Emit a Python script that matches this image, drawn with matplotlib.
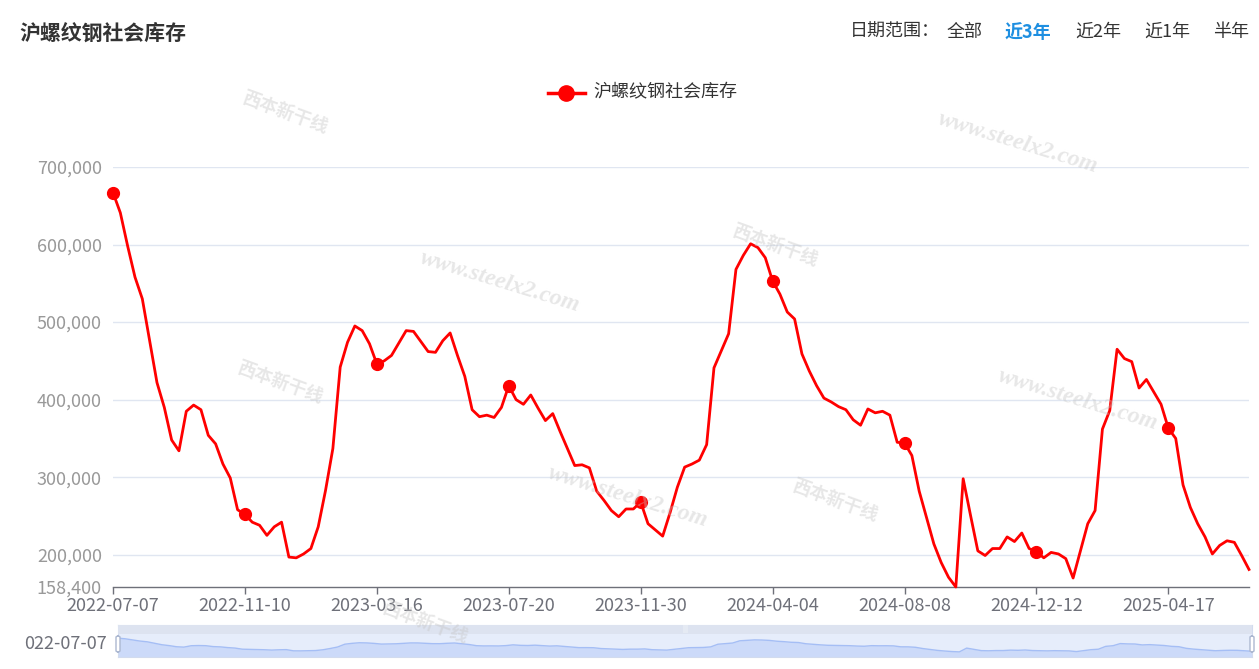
import matplotlib
matplotlib.use("Agg")
import matplotlib.pyplot as plt
from matplotlib.patches import Rectangle, FancyBboxPatch
from matplotlib.lines import Line2D
import numpy as np

plt.rcParams['font.family'] = ['Noto Sans CJK SC', 'DejaVu Sans']

title = "沪螺纹钢社会库存"
series_name = "沪螺纹钢社会库存"
tick_labels = ["2022-07-07", "2022-11-10", "2023-03-16", "2023-07-20", "2023-11-30",
               "2024-04-04", "2024-08-08", "2024-12-12", "2025-04-17"]
values = [
    667000, 641000, 598000, 558000, 530000, 476000, 422000, 390000, 348000, 334000,
    385000, 393000, 387000, 354000, 343000, 317000, 299000, 258000, 252000, 242000,
    238000, 225000, 236000, 242000, 197000, 196000, 201000, 208000, 236000, 283000,
    337000, 442000, 474000, 495000, 489000, 472000, 446000, 450000, 457000, 473000,
    489000, 488000, 475000, 462000, 461000, 476000, 486000, 457000, 430000, 387000,
    378000, 380000, 377000, 390000, 418000, 400000, 394000, 406000, 389000, 373000,
    382000, 359000, 337000, 315000, 316000, 312000, 282000, 270000, 257000, 249000,
    259000, 259000, 268000, 240000, 232000, 224000, 254000, 287000, 313000, 317000,
    322000, 342000, 441000, 463000, 485000, 568000, 586000, 601000, 596000, 583000,
    553000, 536000, 513000, 504000, 459000, 437000, 418000, 402000, 397000, 391000,
    387000, 374000, 367000, 388000, 383000, 385000, 380000, 345000, 344000, 328000,
    282000, 248000, 214000, 190000, 171000, 158400, 298000, 251000, 205000, 199000,
    208000, 208000, 223000, 217000, 228000, 208000, 204000, 196000, 203000, 201000,
    195000, 170000, 205000, 240000, 257000, 362000, 386000, 465000, 453000, 449000,
    415000, 426000, 410000, 394000, 363000, 350000, 290000, 261000, 240000, 223000,
    201000, 212000, 218000, 216000, 199000, 181000,
]
label_interval = 18
y_ticks = [200000, 300000, 400000, 500000, 600000, 700000]
y_min = 158400
range_options = ["全部", "近3年", "近2年", "近1年", "半年"]
active_range = "近3年"

W, H = 1259, 669
fig = plt.figure(figsize=(W / 100, H / 100), dpi=100)
fig.patch.set_facecolor("white")

def fx(px):
    return px / W

def fy(py):
    return 1 - py / H

# watermarks
wm_kw = dict(color="#c4c4c4", alpha=0.4, ha="center", va="center", zorder=0)
for (x, y) in [(1018, 143), (500, 282), (1078, 400), (628, 497)]:
    fig.text(fx(x), fy(y), "www.steelx2.com", rotation=-17, fontsize=17,
             family="Liberation Serif", style="italic", fontweight="bold", **wm_kw)
for (x, y) in [(285, 112), (775, 245), (280, 382), (835, 500), (425, 622)]:
    fig.text(fx(x), fy(y), "西本新干线", rotation=-20, fontsize=13,
             fontweight="bold", **wm_kw)

n = len(values)
x = np.arange(n)

ax = fig.add_axes([fx(113), fy(587), fx(1249) - fx(113), fy(167) - fy(587)])
ax.set_facecolor("none")
ax.plot(x, values, color="#ff0000", linewidth=2.0, marker="o", markersize=8.5,
        markevery=label_interval, zorder=3, clip_on=False)
ax.set_xlim(0, n - 1)
ax.set_ylim(y_min, 700000)

ax.set_yticks([y_min] + y_ticks)
ax.set_yticklabels([f"{v:,}" for v in [y_min] + y_ticks], color="#999999", fontsize=13)
ax.tick_params(axis="y", length=0, pad=8)
for v in y_ticks:
    ax.axhline(v, color="#E0E6F1", linewidth=1, zorder=1)

tick_pos = list(range(0, n, label_interval))[:len(tick_labels)]
ax.set_xticks(tick_pos)
ax.set_xticklabels(tick_labels, color="#6E7079", fontsize=13)
ax.tick_params(axis="x", length=5, width=1, color="#6E7079", pad=2)

for s in ["top", "right", "left"]:
    ax.spines[s].set_visible(False)
ax.spines["bottom"].set_color("#6E7079")
ax.spines["bottom"].set_linewidth(1)

# title
fig.text(fx(19), fy(33), title, fontsize=15, fontweight="bold", color="#333333",
         ha="left", va="center")

# date range options
fig.text(fx(850), fy(32), "日期范围：", fontsize=13, color="#333333", ha="left", va="center")
opt_x = [947, 1005, 1075, 1144, 1213]
for ox, opt in zip(opt_x, range_options):
    active = opt == active_range
    fig.text(fx(ox), fy(32), opt, fontsize=13,
             color="#1E8FE1" if active else "#333333",
             fontweight="bold" if active else "normal", ha="left", va="center")

# legend
fig.add_artist(Line2D([fx(548), fx(585)], [fy(93), fy(93)], color="#ff0000",
                      linewidth=2.5, transform=fig.transFigure))
fig.add_artist(Line2D([fx(566)], [fy(93)], color="#ff0000", marker="o",
                      markersize=11, transform=fig.transFigure))
fig.text(fx(593), fy(92), series_name, fontsize=13, color="#333333", ha="left", va="center")

# data zoom slider
sx0, sx1, sy0, sy1 = 118, 1252, 625, 657
zax = fig.add_axes([fx(sx0), fy(sy1), fx(sx1) - fx(sx0), fy(sy0) - fy(sy1)])
zax.set_xlim(0, n - 1)
zax.set_ylim(-30000, 1150000)
zax.set_facecolor("#E6EDFB")
zax.fill_between(x, values, -30000, color="#CCDAF9", linewidth=0)
zax.plot(x, values, color="#A5BEF5", linewidth=1)
zax.add_patch(Rectangle((0, 0.72), 1, 0.28, transform=zax.transAxes,
                        color="#DDE3F0", zorder=3, linewidth=0))
zax.set_xticks([])
zax.set_yticks([])
for s in zax.spines.values():
    s.set_color("#D2DBEE")
zax.text(0.5, 0.86, "|||", transform=zax.transAxes, ha="center", va="center",
         fontsize=5, color="#ffffff", zorder=4)
for hx in [sx0, sx1]:
    fig.add_artist(FancyBboxPatch((fx(hx - 2), fy(652)), fx(4), fy(636) - fy(652),
                                  boxstyle="round,pad=0,rounding_size=0.002",
                                  transform=fig.transFigure, facecolor="white",
                                  edgecolor="#ACB8D1", linewidth=1, zorder=5))
fig.text(fx(107), fy(644), tick_labels[0][1:], fontsize=13, color="#6E7079",
         ha="right", va="center")

fig.savefig("out.png", dpi=100)
